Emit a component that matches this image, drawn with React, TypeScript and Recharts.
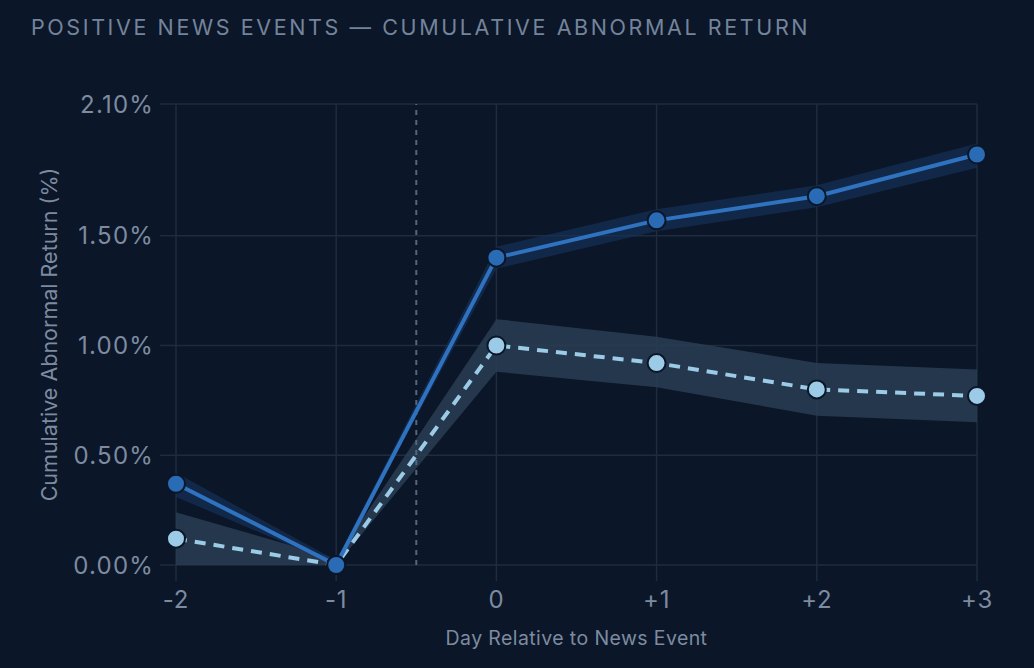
import React from 'react';
import {
  ComposedChart,
  Area,
  Line,
  XAxis,
  YAxis,
  CartesianGrid,
  ReferenceLine,
} from 'recharts';

const days = [-2, -1, 0, 1, 2, 3];
const solidCar = [0.37, 0.0, 1.4, 1.57, 1.68, 1.87];
const solidLow = [0.31, 0.0, 1.35, 1.52, 1.63, 1.81];
const solidHigh = [0.42, 0.02, 1.45, 1.62, 1.73, 1.92];
const dashedCar = [0.12, 0.0, 1.0, 0.92, 0.8, 0.77];
const dashedLow = [0.0, 0.0, 0.88, 0.81, 0.68, 0.65];
const dashedHigh = [0.24, 0.03, 1.12, 1.04, 0.92, 0.89];
const yTicks = [0, 0.5, 1.0, 1.5, 2.1];

const BG = '#0b1628';
const GRID = '#1f2c3e';
const TEXT = '#7d8ba0';
const FONT = 'Inter, sans-serif';

document.body.style.margin = '0';
document.body.style.background = BG;

const data = days.map((d, i) => ({
  day: d,
  solid: solidCar[i],
  solidBand: [solidLow[i], solidHigh[i]],
  dashed: dashedCar[i],
  dashedBand: [dashedLow[i], dashedHigh[i]],
}));

const fmtDay = (v: number) => (v > 0 ? `+${v}` : `${v}`);

export default function App() {
  return (
    <div style={{ position: 'relative', width: 1034, height: 668, background: BG, fontFamily: FONT }}>
      <div
        style={{
          position: 'absolute',
          left: 31,
          top: 14,
          fontSize: 21.5,
          letterSpacing: 2.6,
          color: '#74849b',
          whiteSpace: 'nowrap',
        }}
      >
        POSITIVE NEWS EVENTS — CUMULATIVE ABNORMAL RETURN
      </div>
      <ComposedChart
        width={1034}
        height={668}
        data={data}
        margin={{ top: 104, right: 57, bottom: 43, left: 0 }}
      >
        <CartesianGrid stroke={GRID} strokeWidth={1.5} />
        <XAxis
          dataKey="day"
          type="number"
          domain={[-2, 3]}
          ticks={days}
          tickFormatter={fmtDay}
          axisLine={false}
          tickLine={{ stroke: GRID, strokeWidth: 1.5 }}
          tickSize={16}
          tickMargin={10}
          tick={{ fill: TEXT, fontSize: 24, fontFamily: FONT, letterSpacing: 0.8 }}
          height={60}
          label={{ value: 'Day Relative to News Event', position: 'insideBottom', offset: -20, fill: TEXT, fontSize: 19.5, fontFamily: FONT, letterSpacing: 0.4 }}
        />
        <YAxis
          type="number"
          domain={[0, 2.1]}
          ticks={yTicks}
          tickFormatter={(v: number) => `${v.toFixed(2)}%`}
          axisLine={false}
          tickLine={{ stroke: GRID, strokeWidth: 1.5 }}
          tickSize={16}
          tickMargin={6}
          tick={{ fill: TEXT, fontSize: 24, fontFamily: FONT, letterSpacing: 1.2 }}
          width={176}
          label={{ value: 'Cumulative Abnormal Return (%)', angle: -90, position: 'insideLeft', offset: 49, fill: TEXT, fontSize: 21.5, fontFamily: FONT, style: { textAnchor: 'middle' } }}
        />
        <ReferenceLine x={-0.5} stroke="#56667d" strokeWidth={2} strokeDasharray="5 5" />
        <Area
          dataKey="dashedBand"
          stroke="none"
          fill="#2a3d52"
          fillOpacity={0.85}
          isAnimationActive={false}
          activeDot={false}
        />
        <Area
          dataKey="solidBand"
          stroke="none"
          fill="#163057"
          fillOpacity={0.7}
          isAnimationActive={false}
          activeDot={false}
        />
        <Line
          dataKey="dashed"
          stroke="#9bcbe6"
          strokeWidth={4}
          strokeDasharray="11 8"
          dot={{ r: 9, fill: '#9bcbe6', stroke: BG, strokeWidth: 2, strokeDasharray: '0' }}
          isAnimationActive={false}
        />
        <Line
          dataKey="solid"
          stroke="#2f73c0"
          strokeWidth={4}
          dot={{ r: 9, fill: '#2a6bb6', stroke: BG, strokeWidth: 2 }}
          isAnimationActive={false}
        />
      </ComposedChart>
    </div>
  );
}
